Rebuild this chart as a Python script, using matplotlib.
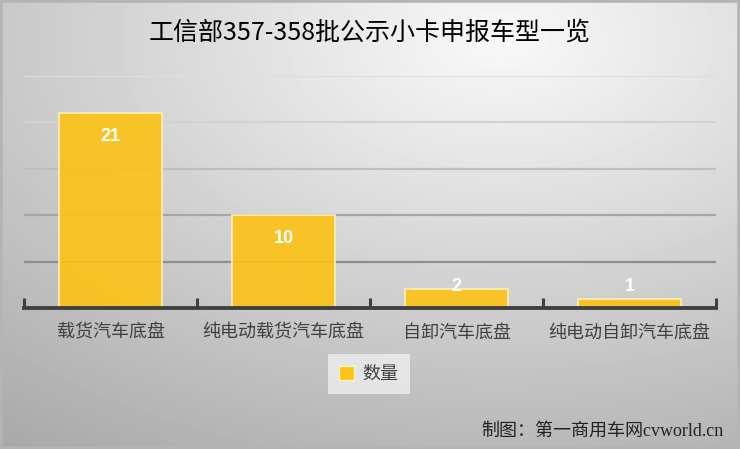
import matplotlib.pyplot as plt
import numpy as np
from matplotlib.patches import Patch

plt.rcParams['font.family'] = ['Noto Sans CJK SC', 'DejaVu Sans']

title = "工信部357-358批公示小卡申报车型一览"
categories = ["载货汽车底盘", "纯电动载货汽车底盘", "自卸汽车底盘", "纯电动自卸汽车底盘"]
counts = [21, 10, 2, 1]
series_name = "数量"
footer = "制图：第一商用车网cvworld.cn"

bar_color = "#FBC217"
grid_ticks = [5, 10, 15, 20, 25]
grid_colors = ["#8e8e8e", "#a6a6a6", "#bebebe", "#d2d2d2", "#dedede"]

fig = plt.figure(figsize=(7.4, 4.49), dpi=100)

# background: soft radial gradient, light near the top centre
bg = fig.add_axes([0, 0, 1, 1], zorder=-10)
yy, xx = np.mgrid[0:449, 0:740]
d = np.sqrt(((xx - 500) / 740.0) ** 2 + ((yy - 40) / 449.0) ** 2)
shade = np.clip(0.975 - 0.28 * d, 0, 1)
bg.imshow(shade, cmap="gray", vmin=0, vmax=1, aspect="auto", extent=[0, 1, 0, 1])
bg.set_xlim(0, 1)
bg.set_ylim(0, 1)
bg.axis("off")
# thin frame
bg.add_patch(plt.Rectangle((0, 0), 1, 1, fill=False, edgecolor="#b4b4b4", lw=4,
                           transform=bg.transAxes))

ax = fig.add_axes([24 / 740, 141 / 449, 692 / 740, 232 / 449])
ax.set_facecolor("none")

x = np.arange(len(categories))
for t, c in zip(grid_ticks, grid_colors):
    ax.axhline(t, color=c, lw=1.6, zorder=1)

bars = ax.bar(x, counts, width=0.6, color=bar_color, alpha=0.92,
              edgecolor="#fff3c0", linewidth=1.2, zorder=2)

for xi, v in zip(x, counts):
    ax.text(xi, max(v - 2.5, 2.3), str(v), ha="center", va="center",
            color="white", fontsize=13, fontweight="bold",
            family=["Liberation Sans", "DejaVu Sans"], zorder=3)

ax.set_xlim(-0.5, len(categories) - 0.5)
ax.set_ylim(0, 25)
ax.set_yticks([])
ax.set_xticks(x)
ax.set_xticklabels(categories, fontsize=13, color="#404040")
ax.tick_params(axis="x", which="major", length=0, pad=11)
ax.set_xticks(np.arange(-0.5, len(categories)), minor=True)
ax.tick_params(axis="x", which="minor", direction="in", length=7, width=2.2,
               color="#404040")
for s in ["top", "right", "left"]:
    ax.spines[s].set_visible(False)
ax.spines["bottom"].set_color("#404040")
ax.spines["bottom"].set_linewidth(2.8)

leg = fig.legend(handles=[Patch(facecolor=bar_color, edgecolor="#fff3c0",
                                label=series_name)],
                 loc="center", bbox_to_anchor=(369 / 740, 1 - 374 / 449),
                 fontsize=13, frameon=True, fancybox=False, handlelength=0.8,
                 handleheight=0.8, handletextpad=0.5, borderpad=0.6,
                 borderaxespad=0)
leg.get_frame().set_facecolor("#f4f4f4")
leg.get_frame().set_alpha(0.7)
leg.get_frame().set_edgecolor("none")
for t in leg.get_texts():
    t.set_color("#404040")

fig.text(0.5, 1 - 33 / 449, title, ha="center", va="center", fontsize=18,
         fontweight="medium", color="#000000")
fig.text(724 / 740, 1 - 431 / 449, footer, ha="right", va="center", fontsize=13,
         color="#222222", family=["Liberation Serif", "Noto Sans CJK SC"])

fig.savefig("out.png", dpi=100)
